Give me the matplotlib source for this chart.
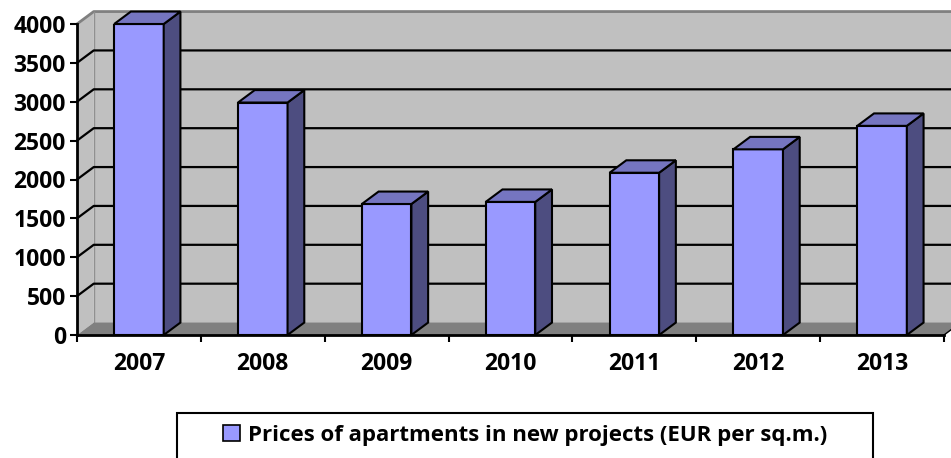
import numpy as np
import matplotlib
matplotlib.use('Agg')
import matplotlib.pyplot as plt
from matplotlib.patches import Polygon, Rectangle, Patch

# data
years = ['2007', '2008', '2009', '2010', '2011', '2012', '2013']
prices = [4000, 2990, 1685, 1712, 2087, 2388, 2690]
series_name = 'Prices of apartments in new projects (EUR per sq.m.)'
y_ticks = np.arange(0, 4001, 500)

# fake 3D look (depth offset in data units)
dx = 0.135
dy = 160
bar_w = 0.4

front_col = '#9999FF'
side_col = '#4D4D80'
top_col = '#7575C0'
wall_col = '#C0C0C0'
floor_col = '#808080'

plt.rcParams['font.family'] = ['Open Sans', 'DejaVu Sans']
plt.rcParams['font.weight'] = 'bold'

fig = plt.figure(figsize=(9.51, 4.58), dpi=100)
ax = fig.add_axes([77/951, 123/458, 867/951, 311/458])
n = len(years)
ymax = y_ticks[-1]
ax.set_xlim(0, n)
ax.set_ylim(0, ymax)
ax.patch.set_visible(False)

'''walls and floor'''
ax.add_patch(Polygon([(dx, dy), (n+dx, dy), (n+dx, ymax+dy), (dx, ymax+dy)],
                     closed=True, fc=wall_col, ec='none', clip_on=False, zorder=0.1))
ax.add_patch(Polygon([(0, 0), (dx, dy), (dx, ymax+dy), (0, ymax)],
                     closed=True, fc=wall_col, ec='none', clip_on=False, zorder=0.1))
ax.plot([0, dx, n+dx], [ymax, ymax+dy, ymax+dy], color='#808080', lw=2, clip_on=False, zorder=0.3)
ax.plot([dx, dx], [dy, ymax+dy], color='#909090', lw=1, clip_on=False, zorder=0.3)

for v in y_ticks[1:-1]:
    ax.plot([0, dx, n+dx], [v, v+dy, v+dy], color='black', lw=1.6, clip_on=False, zorder=0.4)

ax.add_patch(Polygon([(0, 0), (n, 0), (n+dx, dy), (dx, dy)],
                     closed=True, fc=floor_col, ec='none', clip_on=False, zorder=0.5))
ax.plot([n, n+dx], [0, dy], color='black', lw=1, clip_on=False, zorder=0.6)

'''bars: front face, side and top'''
xc = np.arange(n) + 0.5
ax.bar(xc, prices, width=bar_w, color=front_col, edgecolor='black', linewidth=1.5, zorder=3)
for x, v in zip(xc, prices):
    l, r = x - bar_w/2, x + bar_w/2
    ax.add_patch(Polygon([(r, 0), (r+dx, dy), (r+dx, v+dy), (r, v)], closed=True,
                         fc=side_col, ec='black', lw=1.5, clip_on=False, zorder=3))
    ax.add_patch(Polygon([(l, v), (r, v), (r+dx, v+dy), (l+dx, v+dy)], closed=True,
                         fc=top_col, ec='black', lw=1.5, clip_on=False, zorder=3))

'''axes'''
for s in ['top', 'right']:
    ax.spines[s].set_visible(False)
for s in ['left', 'bottom']:
    ax.spines[s].set_linewidth(2)
    ax.spines[s].set_zorder(4)

ax.set_yticks(y_ticks)
ax.set_yticklabels([str(v) for v in y_ticks], fontweight='bold')
ax.tick_params(axis='y', direction='out', length=5, width=1.5, pad=3, labelsize=16.5)

ax.set_xticks(np.arange(n + 1))
ax.set_xticklabels([])
ax.set_xticks(xc, minor=True)
ax.set_xticklabels(years, minor=True, fontweight='bold')
ax.tick_params(axis='x', which='major', direction='out', length=5, width=1.5)
ax.tick_params(axis='x', which='minor', length=0, pad=12, labelsize=16.5)

'''legend'''
fig.patches.append(Rectangle((177/951, -0.05), 696/951, (458-413)/458 + 0.05,
                             transform=fig.transFigure, fill=False, ec='black', lw=1.5))
fig.legend([Patch(fc=front_col, ec='black', lw=1.2)], [series_name],
           loc='center', bbox_to_anchor=(525/951, 1 - 435/458), frameon=False,
           prop={'size': 16, 'weight': 'bold'},
           handlelength=0.75, handleheight=0.75, handletextpad=0.35)

fig.savefig('out.png', dpi=100)
